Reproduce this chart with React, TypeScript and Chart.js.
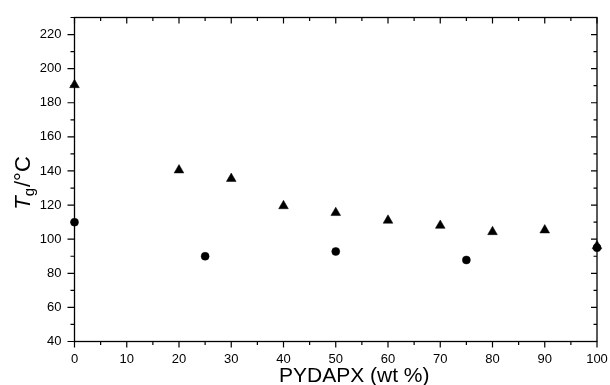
import React, { useEffect, useRef } from "react";
import { Chart, registerables } from "chart.js";

Chart.register(...registerables);

const compositionTriangle = [0, 20, 30, 40, 50, 60, 70, 80, 90, 100];
const tgTriangle = [190.5, 140.5, 135.5, 119.5, 115.5, 111, 108, 104.3, 105.3, 96];
const compositionCircle = [0, 25, 50, 75, 100];
const tgCircle = [110, 90, 92.8, 87.8, 95];

const xTicks = [0, 10, 20, 30, 40, 50, 60, 70, 80, 90, 100];
const xMinorTicks = [5, 15, 25, 35, 45, 55, 65, 75, 85, 95];
const yTicks = [40, 60, 80, 100, 120, 140, 160, 180, 200, 220];
const yMinorTicks = [50, 70, 90, 110, 130, 150, 170, 190, 210, 230];

const FONT = "'Liberation Sans', Arial, Helvetica, sans-serif";

const framePlugin = {
  id: "frameTicks",
  afterDraw(chart: any) {
    const { ctx, chartArea } = chart;
    const xs = chart.scales.x;
    const ys = chart.scales.y;
    const { left, right, top, bottom } = chartArea;
    ctx.save();
    ctx.strokeStyle = "#000";
    ctx.lineWidth = 1.3;
    ctx.strokeRect(left, top, right - left, bottom - top);
    ctx.lineWidth = 1.2;
    ctx.beginPath();
    const major = 6;
    const minor = 3.5;
    for (const v of xTicks) {
      const p = xs.getPixelForValue(v);
      ctx.moveTo(p, bottom);
      ctx.lineTo(p, bottom + major);
      ctx.moveTo(p, top);
      ctx.lineTo(p, top + major);
    }
    for (const v of xMinorTicks) {
      const p = xs.getPixelForValue(v);
      ctx.moveTo(p, bottom);
      ctx.lineTo(p, bottom + minor);
      ctx.moveTo(p, top);
      ctx.lineTo(p, top + minor);
    }
    for (const v of yTicks) {
      const p = ys.getPixelForValue(v);
      ctx.moveTo(left, p);
      ctx.lineTo(left - 7, p);
      ctx.moveTo(right, p);
      ctx.lineTo(right - 6, p);
    }
    for (const v of yMinorTicks) {
      const p = ys.getPixelForValue(v);
      ctx.moveTo(left, p);
      ctx.lineTo(left - 4, p);
      ctx.moveTo(right, p);
      ctx.lineTo(right - 3.5, p);
    }
    ctx.stroke();

    // x axis title
    ctx.fillStyle = "#000";
    ctx.font = `21px ${FONT}`;
    ctx.textAlign = "left";
    ctx.textBaseline = "alphabetic";
    ctx.fillText("PYDAPX (wt %)", 279, 381.5);

    // y axis title with italic T and subscript g
    ctx.save();
    ctx.translate(30, 183);
    ctx.rotate(-Math.PI / 2);
    const fT = `italic 22px ${FONT}`;
    const fg = `15px ${FONT}`;
    const fR = `22px ${FONT}`;
    ctx.font = fT;
    const wT = ctx.measureText("T").width;
    ctx.font = fg;
    const wg = ctx.measureText("g").width;
    ctx.font = fR;
    const wR = ctx.measureText("/°C").width;
    const total = wT + wg + wR + 1;
    let x0 = -total / 2;
    ctx.font = fT;
    ctx.fillText("T", x0, 0);
    x0 += wT;
    ctx.font = fg;
    ctx.fillText("g", x0, 4);
    x0 += wg + 1;
    ctx.font = fR;
    ctx.fillText("/°C", x0, 0);
    ctx.restore();
    ctx.restore();
  },
};

const zeroPad = (s: any) => {
  s.paddingLeft = 0;
  s.paddingRight = 0;
  s.paddingTop = 0;
  s.paddingBottom = 0;
};

export default function App() {
  const ref = useRef<HTMLCanvasElement | null>(null);
  useEffect(() => {
    document.body.style.margin = "0";
    if (!ref.current) return;
    const chart = new Chart(ref.current, {
      type: "scatter",
      data: {
        datasets: [
          {
            label: "triangle",
            data: compositionTriangle.map((x, i) => ({ x, y: tgTriangle[i] })),
            pointStyle: "triangle",
            pointRadius: 5.6,
            backgroundColor: "#000",
            borderColor: "#000",
            borderWidth: 0.5,
            clip: false as any,
          },
          {
            label: "circle",
            data: compositionCircle.map((x, i) => ({ x, y: tgCircle[i] })),
            pointStyle: "circle",
            pointRadius: 4,
            backgroundColor: "#000",
            borderColor: "#000",
            borderWidth: 0.5,
            clip: false as any,
          },
        ],
      },
      options: {
        animation: false,
        responsive: false,
        maintainAspectRatio: false,
        layout: { padding: { left: 0, right: 13, top: 17.5, bottom: 0 } },
        plugins: { legend: { display: false }, tooltip: { enabled: false } },
        scales: {
          x: {
            type: "linear",
            min: 0,
            max: 100,
            afterBuildTicks: (s: any) => {
              s.ticks = xTicks.map((v) => ({ value: v }));
            },
            afterFit: (s: any) => {
              s.height = 43.5;
              zeroPad(s);
            },
            grid: { display: false, drawTicks: false },
            border: { display: false },
            ticks: {
              padding: 10,
              color: "#000",
              font: { family: FONT, size: 13 },
              maxRotation: 0,
              autoSkip: false,
            },
          },
          y: {
            type: "linear",
            min: 40,
            max: 230,
            afterBuildTicks: (s: any) => {
              s.ticks = yTicks.map((v) => ({ value: v }));
            },
            afterFit: (s: any) => {
              s.width = 74.5;
              zeroPad(s);
            },
            grid: { display: false, drawTicks: false },
            border: { display: false },
            ticks: {
              padding: 13,
              color: "#000",
              font: { family: FONT, size: 13 },
              autoSkip: false,
            },
          },
        },
      },
      plugins: [framePlugin],
    });
    return () => chart.destroy();
  }, []);
  return (
    <div style={{ width: 610, height: 385, background: "#fff" }}>
      <canvas ref={ref} width={610} height={385} style={{ display: "block" }} />
    </div>
  );
}
